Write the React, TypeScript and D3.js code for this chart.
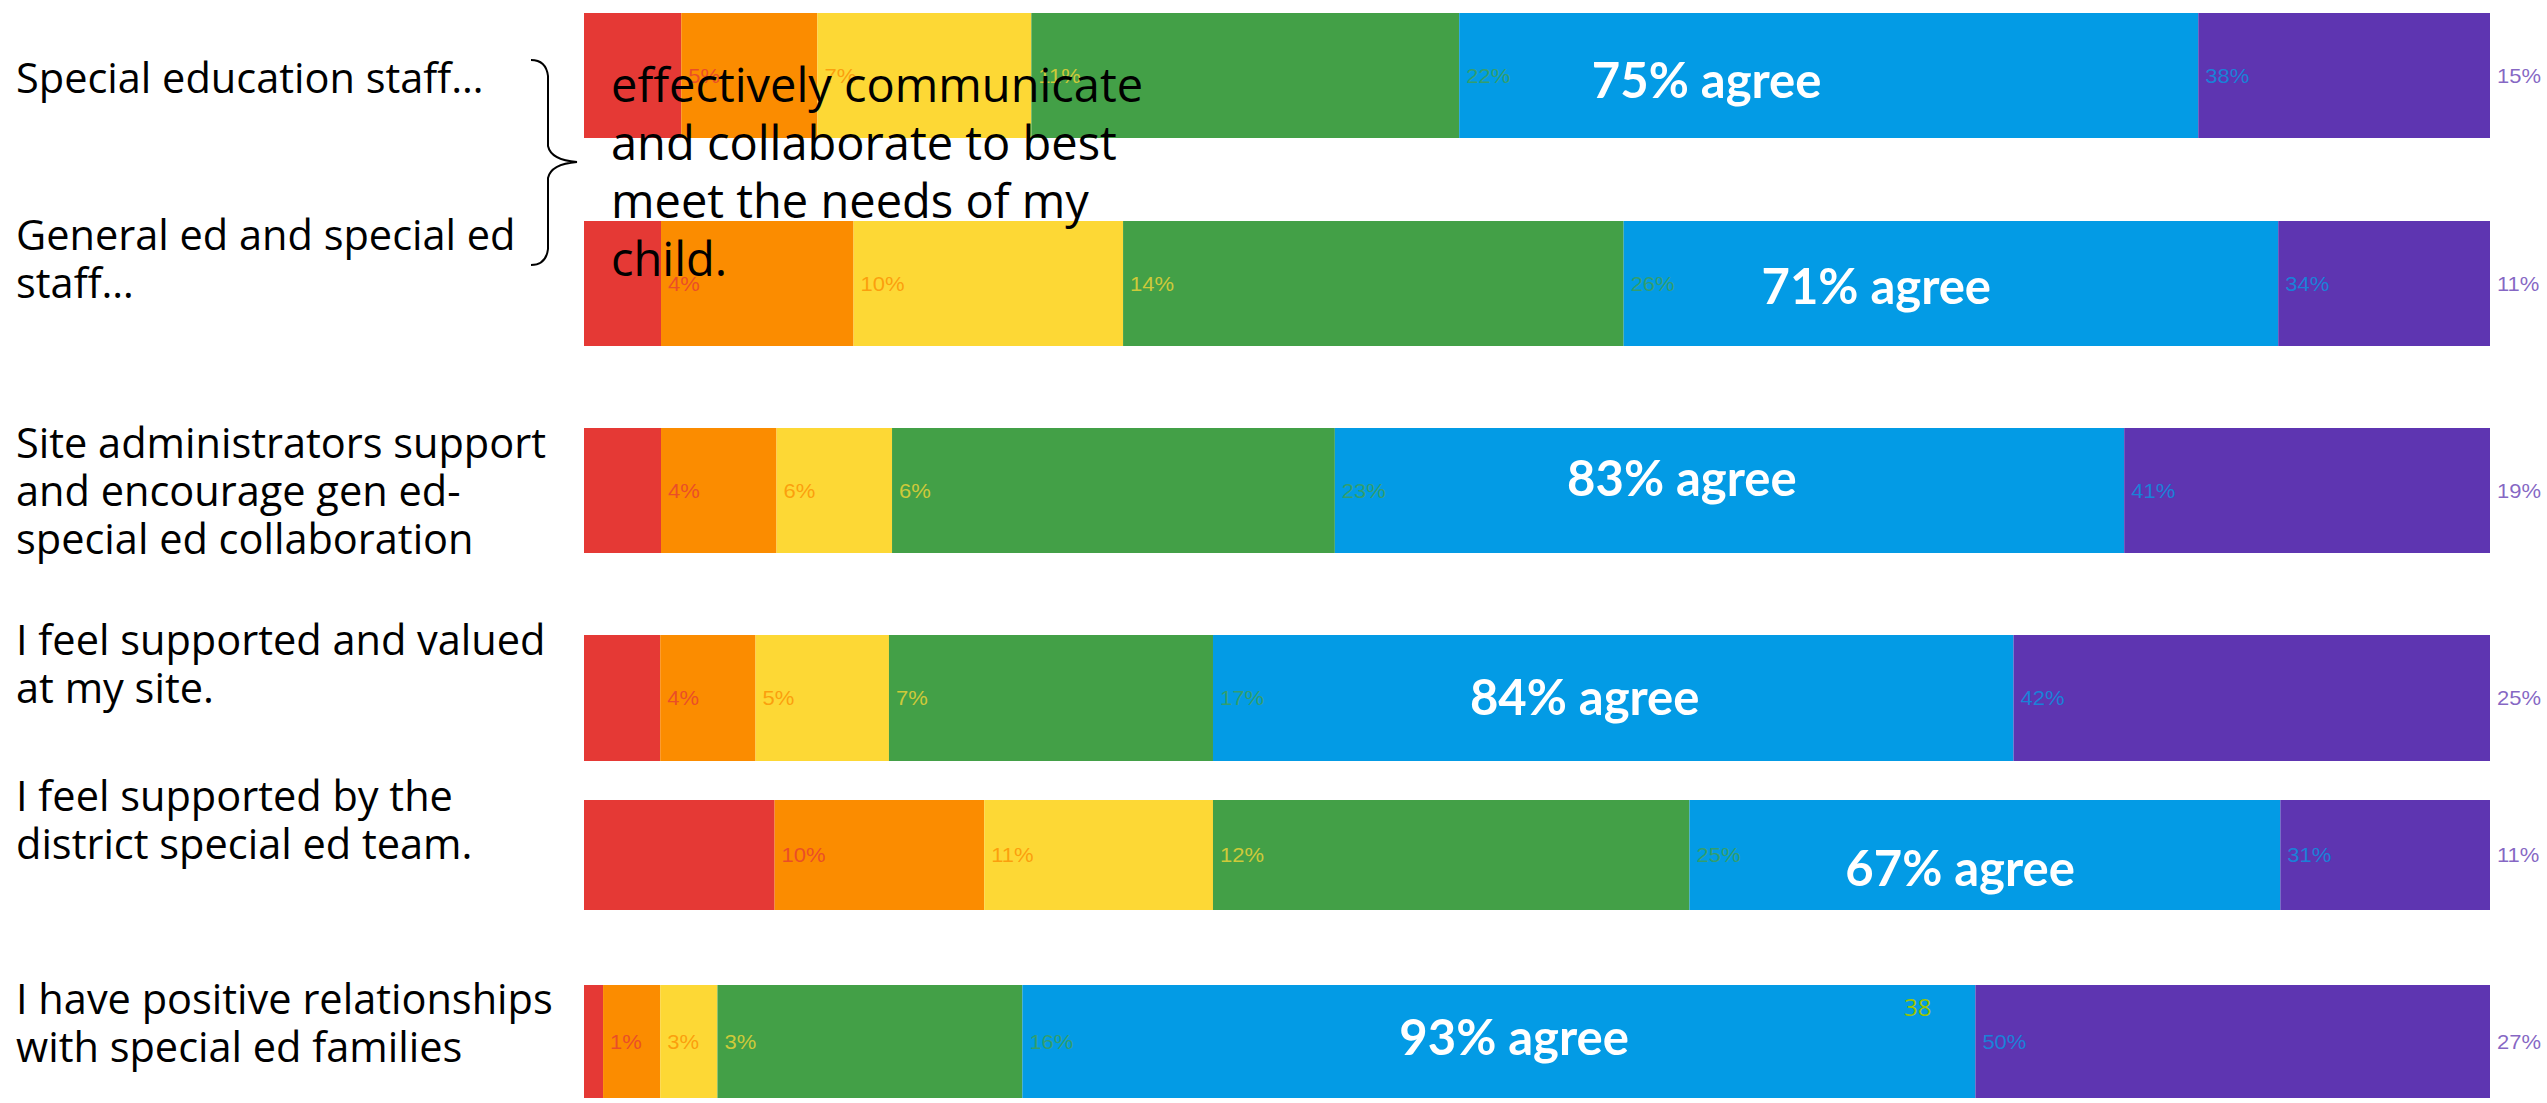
import React from 'react';
import * as d3 from 'd3';

// ---------- data ----------
const categories: string[][] = [
  ['Special education staff…'],
  ['General ed and special ed', 'staff…'],
  ['Site administrators support', 'and encourage gen ed-', 'special ed collaboration'],
  ['I feel supported and valued', 'at my site.'],
  ['I feel supported by the', 'district special ed team.'],
  ['I have positive relationships', 'with special ed families'],
];
const levels = ['Strongly disagree', 'Disagree', 'Somewhat disagree', 'Somewhat agree', 'Agree', 'Strongly agree'];
const stronglyDisagree = [5, 4, 4, 4, 10, 1];
const disagree = [7, 10, 6, 5, 11, 3];
const somewhatDisagree = [11, 14, 6, 7, 12, 3];
const somewhatAgree = [22, 26, 23, 17, 25, 16];
const agree = [38, 34, 41, 42, 31, 50];
const stronglyAgree = [15, 11, 19, 25, 11, 27];
const agreeTotals = [75, 71, 83, 84, 67, 93];
const overlayLines = ['effectively communicate', 'and collaborate to best', 'meet the needs of my', 'child.'];
const strayNote = '38';

// ---------- layout / style ----------
const colors = ['#E53935', '#FB8C00', '#FDD835', '#43A047', '#039BE5', '#5E35B1'];
const rowTop = [13, 221, 428, 635, 800, 985];
const rowHeight = [125, 125, 125, 126, 110, 113];
const labelBaseline = [93, 250, 458, 655, 811, 1014];
const labelPitch = 48;
const agreeLabelAt = [58.9, 67.8, 57.6, 52.5, 72.2, 48.8]; // percent along bar
const agreeLabelDy = [5, 3, -12, 0, 14, -4];

const W = 2547;
const H = 1103;

export default function App() {
  const series = [stronglyDisagree, disagree, somewhatDisagree, somewhatAgree, agree, stronglyAgree];
  const rows = categories.map((_, i) => {
    const vals = series.map((s) => s[i]);
    const total = d3.sum(vals);
    const x = d3.scaleLinear().domain([0, total]).range([584, 2490]);
    let acc = 0;
    const segs = vals.map((v, k) => {
      const s = { x0: x(acc), x1: x(acc + v), v, k };
      acc += v;
      return s;
    });
    return { segs, x, total };
  });
  const pctScale = d3.scaleLinear().domain([0, 100]).range([584, 2490]);

  return (
    <div style={{ position: 'absolute', left: 0, top: 0 }}>
      <svg width={W} height={H} style={{ display: 'block', background: '#fff' }}>
        {rows.map((r, i) => {
          const y = rowTop[i];
          const h = rowHeight[i];
          const cy = y + h / 2;
          return (
            <g key={i}>
              {r.segs.map((s) => (
                <rect key={s.k} x={s.x0} y={y} width={Math.max(0, s.x1 - s.x0)} height={h} fill={colors[s.k]}>
                  <title>{levels[s.k]}</title>
                </rect>
              ))}
              {r.segs.map((s) => (
                <text
                  key={'l' + s.k}
                  transform={`translate(${s.x1 + 7},${cy}) scale(1.1,1)`}
                  dominantBaseline="central"
                  fontFamily="'Liberation Sans', Arial, sans-serif"
                  fontSize={20}
                  fill={colors[s.k]}
                  fillOpacity={0.75}
                >
                  {s.v}%
                </text>
              ))}
              <text
                x={pctScale(agreeLabelAt[i])}
                y={cy + agreeLabelDy[i] + 17}
                textAnchor="middle"
                fontFamily="Lato, 'Open Sans', sans-serif"
                fontWeight={700}
                fontSize={49}
                fill="#fff"
              >
                {agreeTotals[i]}% agree
              </text>
              {categories[i].map((line, j) => (
                <text
                  key={'c' + j}
                  x={16}
                  y={labelBaseline[i] + j * labelPitch}
                  fontFamily="'Open Sans', sans-serif"
                  fontSize={41.5}
                  fill="#000"
                >
                  {line}
                </text>
              ))}
            </g>
          );
        })}
        <path
          d="M 531 60 Q 546 60 548 76 L 548 146 Q 551 160 577 162 Q 551 164 548 178 L 548 249 Q 546 265 531 265"
          fill="none"
          stroke="#000"
          strokeWidth={2}
        />
        {overlayLines.map((line, j) => (
          <text key={j} x={611} y={102 + j * 58} fontFamily="'Open Sans', sans-serif" fontSize={47} fill="#000">
            {line}
          </text>
        ))}
        <text x={1904} y={1016} fontFamily="'Open Sans', sans-serif" fontSize={24} fill="#9BC400">
          {strayNote}
        </text>
      </svg>
    </div>
  );
}
